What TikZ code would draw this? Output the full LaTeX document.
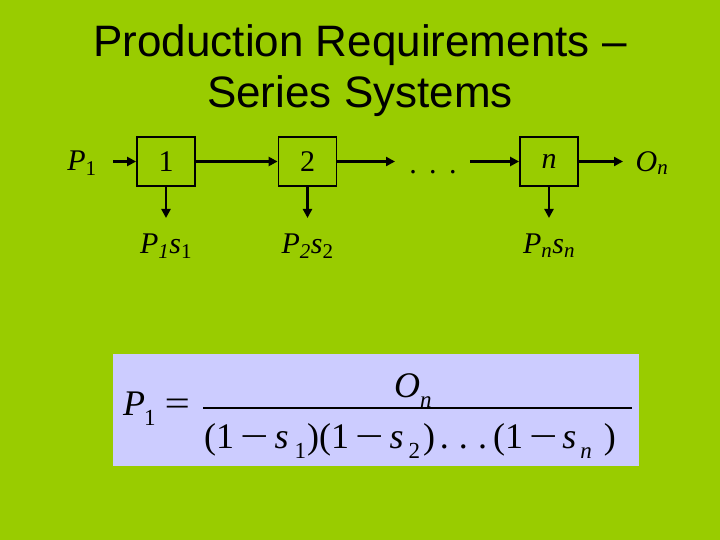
\documentclass[tikz,border=0pt]{standalone}
\usepackage{fontspec}
\usepackage{graphicx}
\setmainfont{Liberation Serif}
\newfontfamily\titlefont{Liberation Sans}
\usetikzlibrary{arrows.meta}
\definecolor{bg}{HTML}{99CC00}
\definecolor{lav}{HTML}{CCCCFF}
\newcommand\lowsub[1]{\raisebox{-10pt}{\fontsize{23}{25}\selectfont #1}}
\newcommand\wminus{\scalebox{1.4}[1]{−}}
\begin{document}
\begin{tikzpicture}[x=1pt,y=-1pt,
  blk/.style={draw=black, line width=1.8pt, minimum width=58pt, minimum height=49pt, inner sep=0pt, font=\fontsize{30}{34}\selectfont},
  flow/.style={line width=2.6pt, -{Triangle[length=9pt,width=9pt]}},
  lbl/.style={inner sep=0pt, font=\fontsize{30}{34}\selectfont},
  ttl/.style={inner sep=0pt, anchor=base, font=\titlefont\fontsize{44}{48}\selectfont},
  eq/.style={inner sep=0pt, anchor=base west, font=\fontsize{36}{40}\selectfont}]
\useasboundingbox (0,0) rectangle (720,540);
\fill[bg] (0,0) rectangle (720,540);
% title
\node[ttl] (t1) at (360,57) {Production Requirements –};
\node[ttl] (t2) at (360,108) {Series Systems};
% blocks
\node[blk] (b1) at (166,161.5) {1};
\node[blk] (b2) at (307.5,161.5) {2};
\node[blk] (bn) at (549,161.5) {\textit{n}};
% input / output labels
\node[lbl] (pin) at (82,163) {\textit{P}\textsubscript{1}};
\node[lbl] (on) at (652,163) {\textit{O}\textsubscript{\textit{n}}};
\node[lbl, anchor=base] (dots) at (433,174) {.\hspace{12.5pt}.\hspace{12.5pt}.};
\coordinate (cin) at (113,161.5);
\coordinate (c2out) at (395,161.5);
\coordinate (cnin) at (470,161.5);
\coordinate (cout) at (623,161.5);
\draw[flow] (cin) -- (b1.west);
\draw[flow] (b1.east) -- (b2.west);
\draw[flow] (b2.east) -- (c2out);
\draw[flow] (cnin) -- (bn.west);
\draw[flow] (bn.east) -- (cout);
% scrap outputs
\coordinate (d1) at (166,218);
\coordinate (d2) at (307.5,218);
\coordinate (dn) at (549,218);
\draw[flow] (b1.south) -- (d1);
\draw[flow] (b2.south) -- (d2);
\draw[flow] (bn.south) -- (dn);
\node[lbl] (s1) at (166,246) {\textit{P}\textsubscript{\textit{1}}\textit{s}\textsubscript{1}};
\node[lbl] (s2) at (307.5,246) {\textit{P}\textsubscript{\textit{2}}\textit{s}\textsubscript{2}};
\node[lbl] (sn) at (549,246) {\textit{P}\textsubscript{\textit{n}}\textit{s}\textsubscript{\textit{n}}};
% formula
\node[fill=lav, minimum width=526pt, minimum height=112pt, inner sep=0pt] (fbox) at (376,410) {};
\node[eq] (lhs) at (123,415) {\textit{P}\hspace{-1pt}\lowsub{1}\hspace{9pt}\scalebox{1.25}[1]{=}};
\node[eq] (num) at (394,397) {\textit{O}\lowsub{\textit{n}}};
\node[eq] (den) at (204,448) {(1\hspace{6pt}\wminus\hspace{6pt}\textit{s}\hspace{6pt}\lowsub{1}\hspace{1pt})(1\hspace{6pt}\wminus\hspace{6pt}\textit{s}\hspace{5pt}\lowsub{2}\hspace{3pt})\hspace{5pt}.\hspace{10pt}.\hspace{10pt}.\hspace{6pt}(1\hspace{6pt}\wminus\hspace{5pt}\textit{s}\hspace{4pt}\lowsub{\textit{n}}\hspace{12pt})};
\coordinate (barl) at (203,408);
\coordinate (barr) at (632,408);
\draw[line width=1.5pt] (barl) -- (barr);
\end{tikzpicture}
\end{document}
